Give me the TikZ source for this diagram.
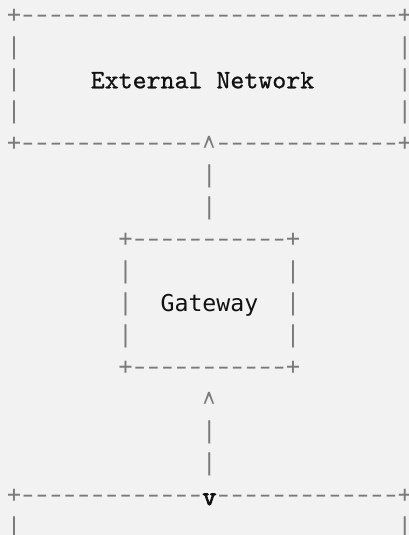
\documentclass[tikz,border=0pt]{standalone}
\usepackage{fontspec}
\usepackage{graphicx}
\newfontfamily\boxfont{DejaVu Sans Mono}
\newfontfamily\extfont{lmmono10-regular.otf}[FakeBold=0.8]
\newfontfamily\vfont{lmmono10-regular.otf}[FakeBold=3]
\definecolor{bg}{HTML}{F2F2F2}
\definecolor{boxc}{HTML}{7A7A7A}
\definecolor{txt}{HTML}{111111}
\newcommand\zbox[1]{\makebox[0pt]{#1}}
\newcommand\dsh{\zbox{\scalebox{1.45}[1]{-}}}
\newcommand\crt{\zbox{\raisebox{-24pt}[8pt][0pt]{\scalebox{0.85}[1.9]{\char`\^}}}}
\begin{document}
\begin{tikzpicture}[x=13.96pt,y=-32pt,
  gch/.style={inner sep=0pt,outer sep=0pt,anchor=base,yshift=-6.3pt,text=boxc,
    font=\fontsize{23.2}{28}\selectfont\boxfont},
  caret/.style={inner sep=0pt,outer sep=0pt,anchor=base,text=boxc,
    font=\fontsize{23.2}{28}\selectfont\boxfont},
  serlbl/.style={inner sep=0pt,outer sep=0pt,anchor=base west,yshift=-8.3pt,text=txt,
    font=\fontsize{26.6}{32}\selectfont\extfont},
  sanslbl/.style={inner sep=0pt,outer sep=0pt,anchor=base west,yshift=-7.5pt,text=txt,
    font=\fontsize{23.2}{28}\selectfont\boxfont},
  vch/.style={inner sep=0pt,outer sep=0pt,anchor=base,yshift=-9pt,text=txt,
    font=\fontsize{26.6}{32}\selectfont\vfont}]
\fill[bg] (0pt,0pt) rectangle (409pt,-535pt);
\useasboundingbox (0pt,0pt) rectangle (409pt,-535pt);
\begin{scope}[shift={(14pt,-16pt)}]
% ---------- External Network box ----------
\node[gch] (en-tl) at (0,0) {\zbox{+}};
\foreach \c in {1,...,27} \node[gch] (en-t\c) at (\c,0) {\dsh};
\node[gch] (en-tr) at (28,0) {\zbox{+}};
\foreach \r in {1,2,3} {
  \node[gch] (en-l\r) at (0,\r) {\zbox{|}};
  \node[gch] (en-r\r) at (28,\r) {\zbox{|}};
}
\node[serlbl] (extnet) at (5.5,2) {External Network};
\node[gch] (en-bl) at (0,4) {\zbox{+}};
\foreach \c in {1,...,13} \node[gch] (en-b\c) at (\c,4) {\dsh};
\node[caret] (up1) at (14,4) {\crt};
\foreach \c in {15,...,27} \node[gch] (en-b\c) at (\c,4) {\dsh};
\node[gch] (en-br) at (28,4) {\zbox{+}};
% ---------- connector to gateway ----------
\node[gch] (c1a) at (14,5) {\zbox{|}};
\node[gch] (c1b) at (14,6) {\zbox{|}};
% ---------- Gateway box ----------
\node[gch] (gw-tl) at (8,7) {\zbox{+}};
\foreach \c in {9,...,19} \node[gch] (gw-t\c) at (\c,7) {\dsh};
\node[gch] (gw-tr) at (20,7) {\zbox{+}};
\foreach \r in {8,9,10} {
  \node[gch] (gw-l\r) at (8,\r) {\zbox{|}};
  \node[gch] (gw-r\r) at (20,\r) {\zbox{|}};
}
\node[sanslbl] (gateway) at (10.5,9) {Gateway};
\node[gch] (gw-bl) at (8,11) {\zbox{+}};
\foreach \c in {9,...,19} \node[gch] (gw-b\c) at (\c,11) {\dsh};
\node[gch] (gw-br) at (20,11) {\zbox{+}};
% ---------- connector to lower box ----------
\node[caret] (up2) at (14,12) {\crt};
\node[gch] (c2a) at (14,13) {\zbox{|}};
\node[gch] (c2b) at (14,14) {\zbox{|}};
% ---------- lower box ----------
\node[gch] (lb-tl) at (0,15) {\zbox{+}};
\foreach \c in {1,...,13} \node[gch] (lb-t\c) at (\c,15) {\dsh};
\node[vch] (down) at (14,15) {v};
\foreach \c in {15,...,27} \node[gch] (lb-t\c) at (\c,15) {\dsh};
\node[gch] (lb-tr) at (28,15) {\zbox{+}};
\node[gch] (lb-l16) at (0,16) {\zbox{|}};
\node[gch] (lb-r16) at (28,16) {\zbox{|}};
\end{scope}
\end{tikzpicture}
\end{document}
